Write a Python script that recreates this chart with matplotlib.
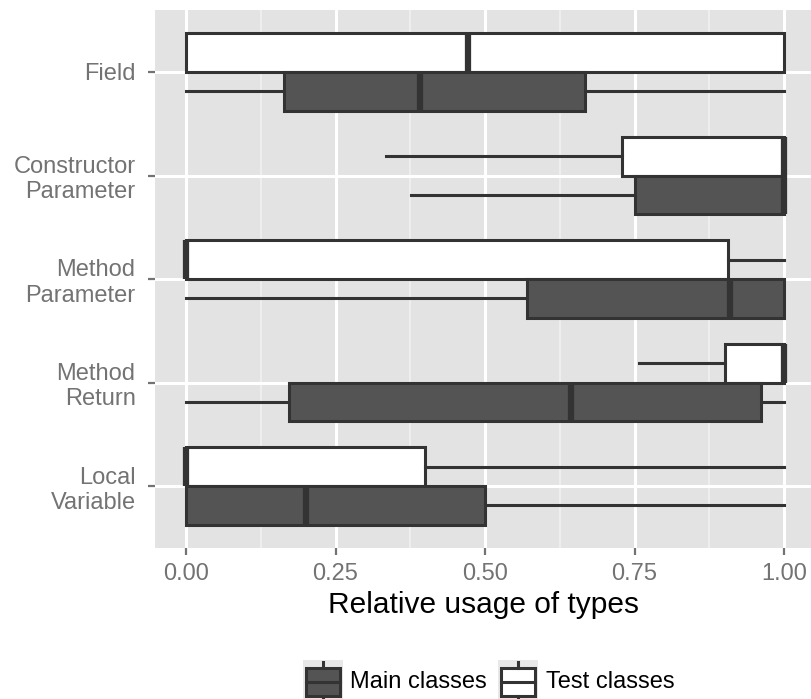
import matplotlib
matplotlib.use("Agg")
import matplotlib.pyplot as plt
from matplotlib.patches import Rectangle

plt.rcParams['font.family'] = ['Liberation Sans', 'DejaVu Sans']

# categories from top to bottom
categories = ["Field", "Constructor\nParameter", "Method\nParameter",
              "Method\nReturn", "Local\nVariable"]

# five-number summaries per category: whislo, q1, med, q3, whishi
test_stats = [
    (0.0, 0.0, 0.472, 1.0, 1.0),
    (0.334, 0.729, 1.0, 1.0, 1.0),
    (0.0, 0.0, 0.0, 0.906, 1.0),
    (0.757, 0.902, 1.0, 1.0, 1.0),
    (0.0, 0.0, 0.0, 0.40, 1.0),
]
main_stats = [
    (0.0, 0.164, 0.392, 0.668, 1.0),
    (0.376, 0.750, 1.0, 1.0, 1.0),
    (0.0, 0.571, 0.909, 1.0, 1.0),
    (0.0, 0.173, 0.643, 0.961, 1.0),
    (0.0, 0.0, 0.20, 0.50, 1.0),
]

x_ticks = [0.0, 0.25, 0.5, 0.75, 1.0]
x_ticklabels = ["0.00", "0.25", "0.50", "0.75", "1.00"]

BG = "#E3E3E3"
EDGE = "#333333"
MAIN_FILL = "#545454"
TEST_FILL = "#FFFFFF"
TICK_COL = "#737373"

W, H = 811, 699
fig = plt.figure(figsize=(W / 100, H / 100), dpi=100)
ax = fig.add_axes([155 / W, 1 - 548 / H, (W - 155) / W, (548 - 10) / H])
ax.set_facecolor(BG)

n = len(categories)
ypos = [n - i for i in range(n)]
dodge = 0.1875


def to_bxp(rows, label):
    out = []
    for lo, q1, med, q3, hi in rows:
        out.append(dict(whislo=lo, q1=q1, med=med, q3=q3, whishi=hi,
                        fliers=[], label=label))
    return out


for rows, fill, off in [(test_stats, TEST_FILL, dodge),
                        (main_stats, MAIN_FILL, -dodge)]:
    ax.bxp(to_bxp(rows, ""), positions=[y + off for y in ypos],
           widths=0.375, orientation="horizontal", patch_artist=True,
           showcaps=False, showfliers=False, manage_ticks=False,
           boxprops=dict(facecolor=fill, edgecolor=EDGE, linewidth=2.2),
           whiskerprops=dict(color=EDGE, linewidth=2.2),
           medianprops=dict(color=EDGE, linewidth=4.5, solid_capstyle="butt"),
           zorder=3)

ax.set_xlim(-31 / 598, (W - 186) / 598)
ax.set_ylim(1 - 62 / 103.5, n + 62 / 103.5)

ax.set_xticks(x_ticks)
ax.set_xticklabels(x_ticklabels)
ax.set_xticks([0.125, 0.375, 0.625, 0.875], minor=True)
ax.set_yticks(ypos)
ax.set_yticklabels(categories)

ax.grid(which="major", color="white", linewidth=2.2, zorder=0)
ax.grid(which="minor", axis="x", color="#F2F2F2", linewidth=1.1, zorder=0)
ax.set_axisbelow(True)
for s in ax.spines.values():
    s.set_visible(False)

ax.tick_params(which="major", length=5, width=1.6, color=TICK_COL,
               labelcolor=TICK_COL, labelsize=17)
ax.tick_params(axis="x", pad=6)
ax.tick_params(axis="y", pad=9)
ax.tick_params(which="minor", length=0)

ax.set_xlabel("Relative usage of types", fontsize=21.5, color="black",
              labelpad=4)


# legend keys drawn as small boxplot glyphs on grey squares
def legend_key(x0, fill):
    kax = fig.add_axes([x0 / W, 1 - 701 / H, 40 / W, 41 / H])
    kax.set_xlim(0, 1)
    kax.set_ylim(0, 1)
    kax.axis("off")
    kax.add_patch(Rectangle((0, 0), 1, 1, facecolor="#E8E8E8",
                            edgecolor="none"))
    kax.plot([0.5, 0.5], [0.8, 0.95], color=EDGE, lw=2.2)
    kax.plot([0.5, 0.5], [0.0, 0.12], color=EDGE, lw=2.2)
    kax.add_patch(Rectangle((0.08, 0.12), 0.84, 0.68, facecolor=fill,
                            edgecolor=EDGE, linewidth=2.2))
    kax.plot([0.08, 0.92], [0.46, 0.46], color=EDGE, lw=2.2)


legend_key(303, MAIN_FILL)
fig.text(350 / W, 1 - 682 / H, "Main classes", fontsize=17,
         va="center", ha="left")
legend_key(498, TEST_FILL)
fig.text(546 / W, 1 - 682 / H, "Test classes", fontsize=17,
         va="center", ha="left")

fig.savefig("out.png", dpi=100)
